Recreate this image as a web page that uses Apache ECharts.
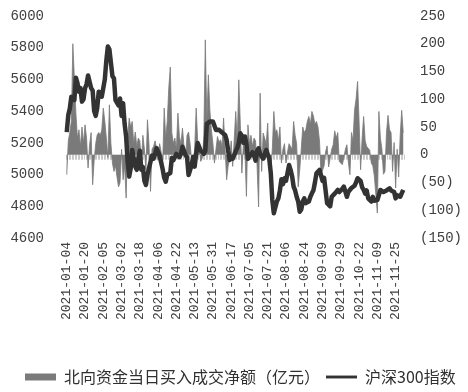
<!DOCTYPE html>
<html><head><meta charset="utf-8">
<script src="https://cdn.jsdelivr.net/npm/echarts@6/dist/echarts.min.js"></script>
<style>html,body{margin:0;padding:0;background:#fff}#c{width:468px;height:392px}</style>
</head><body><div id="c"></div>
<script>
const dates = [
"2021-01-04","2021-01-05","2021-01-06","2021-01-07","2021-01-08","2021-01-11","2021-01-12","2021-01-13","2021-01-14","2021-01-15",
"2021-01-18","2021-01-19","2021-01-20","2021-01-21","2021-01-22","2021-01-25","2021-01-26","2021-01-27","2021-01-28","2021-01-29",
"2021-02-01","2021-02-02","2021-02-03","2021-02-04","2021-02-05","2021-02-08","2021-02-09","2021-02-10","2021-02-18","2021-02-19",
"2021-02-22","2021-02-23","2021-02-24","2021-02-25","2021-02-26","2021-03-01","2021-03-02","2021-03-03","2021-03-04","2021-03-05",
"2021-03-08","2021-03-09","2021-03-10","2021-03-11","2021-03-12","2021-03-15","2021-03-16","2021-03-17","2021-03-18","2021-03-19",
"2021-03-22","2021-03-23","2021-03-24","2021-03-25","2021-03-26","2021-03-29","2021-03-30","2021-03-31","2021-04-01","2021-04-02",
"2021-04-06","2021-04-07","2021-04-08","2021-04-09","2021-04-12","2021-04-13","2021-04-14","2021-04-15","2021-04-16","2021-04-19",
"2021-04-20","2021-04-21","2021-04-22","2021-04-23","2021-04-26","2021-04-27","2021-04-28","2021-04-29","2021-04-30","2021-05-06",
"2021-05-07","2021-05-10","2021-05-11","2021-05-12","2021-05-13","2021-05-14","2021-05-17","2021-05-18","2021-05-19","2021-05-20",
"2021-05-21","2021-05-24","2021-05-25","2021-05-26","2021-05-27","2021-05-28","2021-05-31","2021-06-01","2021-06-02","2021-06-03",
"2021-06-04","2021-06-07","2021-06-08","2021-06-09","2021-06-10","2021-06-11","2021-06-15","2021-06-16","2021-06-17","2021-06-18",
"2021-06-21","2021-06-22","2021-06-23","2021-06-24","2021-06-25","2021-06-28","2021-06-29","2021-06-30","2021-07-01","2021-07-02",
"2021-07-05","2021-07-06","2021-07-07","2021-07-08","2021-07-09","2021-07-12","2021-07-13","2021-07-14","2021-07-15","2021-07-16",
"2021-07-19","2021-07-20","2021-07-21","2021-07-22","2021-07-23","2021-07-26","2021-07-27","2021-07-28","2021-07-29","2021-07-30",
"2021-08-02","2021-08-03","2021-08-04","2021-08-05","2021-08-06","2021-08-09","2021-08-10","2021-08-11","2021-08-12","2021-08-13",
"2021-08-16","2021-08-17","2021-08-18","2021-08-19","2021-08-20","2021-08-23","2021-08-24","2021-08-25","2021-08-26","2021-08-27",
"2021-08-30","2021-08-31","2021-09-01","2021-09-02","2021-09-03","2021-09-06","2021-09-07","2021-09-08","2021-09-09","2021-09-10",
"2021-09-13","2021-09-14","2021-09-15","2021-09-16","2021-09-17","2021-09-22","2021-09-23","2021-09-24","2021-09-27","2021-09-28",
"2021-09-29","2021-09-30","2021-10-08","2021-10-11","2021-10-12","2021-10-13","2021-10-14","2021-10-15","2021-10-18","2021-10-19",
"2021-10-20","2021-10-21","2021-10-22","2021-10-25","2021-10-26","2021-10-27","2021-10-28","2021-10-29","2021-11-01","2021-11-02",
"2021-11-03","2021-11-04","2021-11-05","2021-11-08","2021-11-09","2021-11-10","2021-11-11","2021-11-12","2021-11-15","2021-11-16",
"2021-11-17","2021-11-18","2021-11-19","2021-11-22","2021-11-23","2021-11-24","2021-11-25","2021-11-26","2021-11-29","2021-11-30",
"2021-12-01","2021-12-02"
];
const northFlow = [
-36,25,40,60,200,138,75,30,45,15,
50,21,54,30,-24,18,40,-54,-10,20,
36,40,35,45,84,60,30,-5,90,20,
-15,-30,-20,-40,-58,-50,10,-45,-20,-78,
30,66,50,60,20,41,15,30,25,-15,
35,10,-27,63,20,-66,10,15,25,10,
-10,20,5,-15,84,30,60,120,158,40,
20,30,10,75,33,20,48,15,-8,35,
41,20,-10,-20,10,84,25,15,-12,-6,
30,207,60,144,80,45,20,-15,10,33,
22,27,15,66,10,-45,-20,-8,25,-21,
-18,78,25,135,55,-33,20,10,-75,54,
20,35,15,30,25,-20,-94,111,-30,39,
40,20,57,-25,-30,10,78,40,45,25,
50,-15,10,20,-15,5,20,15,10,60,
35,20,-58,-28,10,50,40,45,60,69,
55,78,70,55,60,50,25,-36,-38,-20,
5,16,-22,-25,10,18,43,30,40,-12,
-15,-18,-5,10,18,-15,-36,40,25,80,
100,132,60,-27,30,69,25,15,12,8,
-15,-20,-38,-40,-105,78,30,10,-35,-30,
40,71,45,40,-30,22,-60,10,-40,35,
80,40
];
const csi300 = [
5268,5376,5417,5490,5495,5470,5611,5578,5523,5545,
5460,5475,5544,5570,5625,5628,5545,5530,5400,5370,
5420,5523,5510,5491,5483,5600,5720,5808,5790,5779,
5620,5607,5470,5460,5436,5480,5370,5450,5320,5239,
5080,4987,5040,5155,5160,5050,5030,5100,5150,5030,
5048,4960,4935,5000,5040,5050,5120,5100,5130,5167,
5143,5118,5122,5033,4980,4955,4999,4990,5010,5104,
5091,5110,5130,5135,5110,5130,5176,5170,5123,5110,
4997,5000,5060,5111,5050,5134,5199,5190,5150,5140,
5130,5150,5320,5325,5334,5330,5335,5330,5281,5290,
5282,5281,5265,5270,5250,5218,5150,5092,5113,5100,
5105,5148,5167,5200,5260,5245,5200,5240,5190,5099,
5110,5128,5141,5121,5088,5150,5166,5130,5137,5100,
5110,5155,5150,5100,5010,4840,4756,4760,4830,4850,
4900,4970,4940,4977,4960,5010,5060,5030,4990,4924,
4900,4860,4830,4766,4780,4830,4850,4820,4808,4830,
4860,4882,4900,4950,5008,5010,5029,5020,4960,4980,
4900,4819,4830,4800,4860,4860,4880,4870,4903,4890,
4895,4910,4924,4925,4860,4892,4895,4915,4905,4930,
4950,4977,4965,4960,4920,4903,4880,4900,4850,4840,
4830,4860,4835,4829,4840,4870,4903,4900,4890,4882,
4900,4895,4913,4900,4910,4890,4850,4870,4882,4860,
4870,4903
];
const seriesNames = ["北向资金当日买入成交净额（亿元）", "沪深300指数"];

const chart = echarts.init(document.getElementById('c'), null, {renderer: 'canvas'});
const numFont = "Liberation Mono";
chart.setOption({
  animation: false,
  backgroundColor: '#ffffff',
  grid: {left: 66, right: 64, top: 16, bottom: 154},
  legend: {
    bottom: 2, left: 20,
    itemWidth: 31, itemHeight: 7, itemGap: 6,
    textStyle: {fontFamily: "Noto Sans CJK SC", fontSize: 16, color: '#303030', padding: [0,0,0,3]},
    data: [
      {name: seriesNames[0], icon: 'rect'},
      {name: seriesNames[1], icon: 'path://M0,0 L32,0 L32,3 L0,3 Z'}
    ]
  },
  xAxis: {
    type: 'category', data: dates, boundaryGap: true,
    axisLine: {show: false},
    axisTick: {show: true, interval: 0, length: 5, lineStyle: {color: '#c8c8c8', width: 1}},
    axisLabel: {interval: 11, rotate: 90, fontFamily: numFont, fontSize: 13, color: '#404040', margin: 4}
  },
  yAxis: [
    {type: 'value', min: 4600, max: 6000, interval: 200, position: 'left',
     splitLine: {show: false}, axisLine: {show: false}, axisTick: {show: false},
     axisLabel: {fontFamily: numFont, fontSize: 14, color: '#404040', margin: 22,
       formatter: v => String(v)}},
    {type: 'value', min: -150, max: 250, interval: 50, position: 'right',
     splitLine: {show: false}, axisLine: {show: false}, axisTick: {show: false},
     axisLabel: {fontFamily: numFont, fontSize: 14, color: '#404040', margin: 16, align: 'left',
       formatter: v => v < 0 ? '(' + (-v) + ')' : String(v)}}
  ],
  series: [
    {name: seriesNames[0], type: 'line', yAxisIndex: 1, data: northFlow,
     symbol: 'none', smooth: false,
     lineStyle: {color: '#7a7a7a', width: 0.8},
     itemStyle: {color: '#7a7a7a'},
     areaStyle: {color: '#7a7a7a', opacity: 1, origin: 0}},
    {name: seriesNames[1], type: 'line', yAxisIndex: 0, data: csi300,
     symbol: 'none', smooth: false,
     lineStyle: {color: '#333333', width: 4.5, join: 'round'},
     itemStyle: {color: '#333333'}}
  ]
});
</script></body></html>
